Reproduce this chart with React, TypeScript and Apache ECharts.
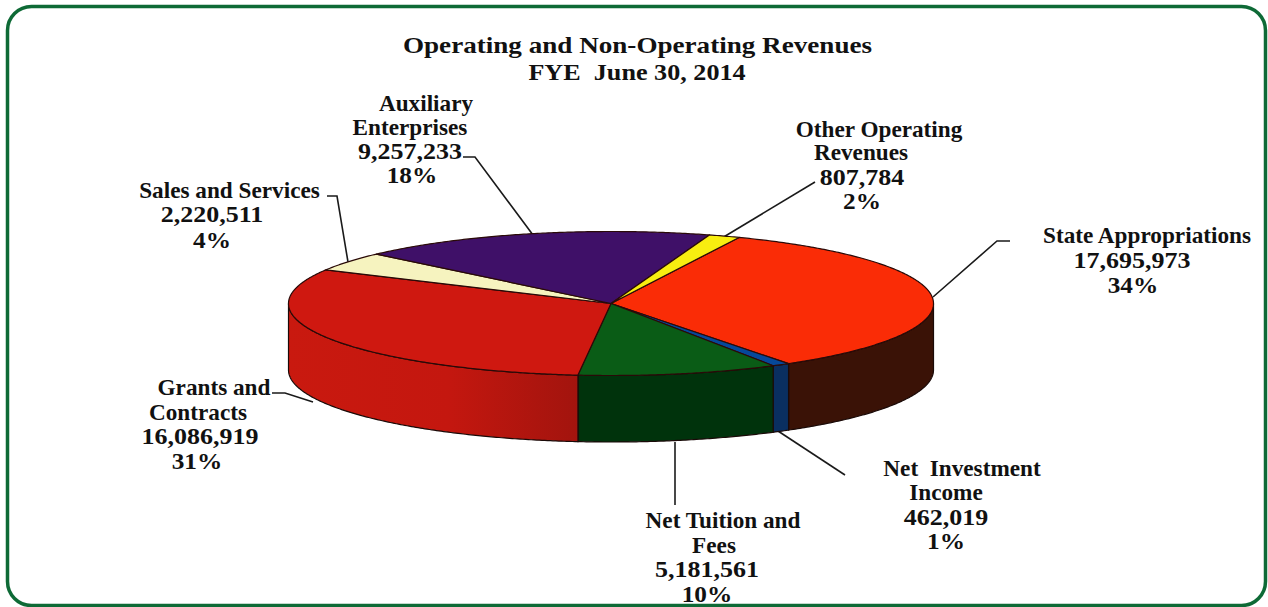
import React, { useEffect, useRef } from "react";
import * as echarts from "echarts";

const titleLines = ["Operating and Non-Operating Revenues", "FYE  June 30, 2014"];
const categories = [
  ["State Appropriations"],
  ["Net  Investment", "Income"],
  ["Net Tuition and", "Fees"],
  ["Grants and", "Contracts"],
  ["Sales and Services"],
  ["Auxiliary", "Enterprises"],
  ["Other Operating", "Revenues"],
];
const values = [17695973, 462019, 5181561, 16086919, 2220511, 9257233, 807784];
const percents = ["34%", "1%", "10%", "31%", "4%", "18%", "2%"];
const topColors = ["#fa2c06", "#06489a", "#0a5c16", "#cf1810", "#f6f3bf", "#3f1068", "#f8ee10"];
const sideColors: any[] = [
  "#3a1206",
  "#0a2f60",
  "#00330c",
  ["#c9190f", "#c4170f", "#a2140e"],
  "#f6f3bf",
  "#3f1068",
  "#f8ee10",
];

// Pie drawing geometry
const CX = 611, CY = 303.5, RX = 322.5, RY = 72, DEPTH = 66.5, START = -66.6;
// Label layout: centre x and baseline-middle y per text line
const labelX = [
  [1147, 1132, 1133],
  [962, 946, 946, 946],
  [723, 714, 707, 707],
  [214, 198, 200, 197],
  [229.5, 212, 212],
  [426, 410, 410, 412],
  [879, 861, 862, 862],
];
const labelY = [
  [235, 260, 285],
  [468, 492, 517, 541],
  [520, 545, 569, 594],
  [387, 412, 436, 461],
  [190, 214, 240],
  [103, 127, 151, 175],
  [129, 152, 177, 201],
];
const leaders = [
  [[1010, 241], [997, 241], [933, 297]],
  [[845, 475], [778, 431]],
  [[675, 442], [675, 505]],
  [[272, 393], [285, 393], [313, 402]],
  [[327, 196], [337, 196], [348, 262]],
  [[463, 157], [475, 157], [533, 235]],
  [[815, 182], [722, 238]],
];

const FONT = '"Liberation Serif", "Times New Roman", serif';
const total = values.reduce((a, b) => a + b, 0);
const pt = (deg: number, dy = 0): number[] => {
  const r = (deg * Math.PI) / 180;
  return [CX + RX * Math.cos(r), CY + RY * Math.sin(r) + dy];
};
const arc = (a: number, b: number, dy = 0): number[][] => {
  const n = Math.max(2, Math.ceil(Math.abs(b - a) * 2));
  const out: number[][] = [];
  for (let i = 0; i <= n; i++) out.push(pt(a + ((b - a) * i) / n, dy));
  return out;
};

function renderSlice(params: any, api: any) {
  const i = params.dataIndex;
  const before = values.slice(0, i).reduce((a, b) => a + b, 0);
  const a0 = START + (before / total) * 360;
  const a1 = a0 + (api.value(0) / total) * 360;
  const children: any[] = [];
  const s0 = Math.max(a0, 0);
  const s1 = Math.min(a1, 180);
  if (s1 > s0) {
    const c = sideColors[i];
    const fill = Array.isArray(c)
      ? new echarts.graphic.LinearGradient(0, 0, 1, 0, [
          { offset: 0, color: c[0] },
          { offset: 0.55, color: c[1] },
          { offset: 1, color: c[2] },
        ])
      : c;
    children.push({
      type: "polygon",
      shape: { points: [...arc(s0, s1), ...arc(s1, s0, DEPTH)] },
      style: { fill, stroke: "#1a0a08", lineWidth: 1.2 },
    });
  }
  children.push({
    type: "polygon",
    shape: { points: [[CX, CY], ...arc(a0, a1)] },
    style: { fill: topColors[i], stroke: "#2a0a08", lineWidth: 1.2, lineJoin: "round" },
  });
  return { type: "group", children };
}

export default function App() {
  const ref = useRef<HTMLDivElement>(null);
  useEffect(() => {
    const chart = echarts.init(ref.current!, undefined, { renderer: "svg" });
    const text = (s: string, x: number, y: number, size = 23, sx = 1) => ({
      type: "text",
      x,
      y,
      scaleX: sx,
      silent: true,
      style: {
        text: s,
        x: 0,
        y: 0,
        align: "center",
        verticalAlign: "middle",
        fill: "#111111",
        font: `bold ${size}px ${FONT}`,
      },
    });
    const graphics: any[] = [
      {
        type: "rect",
        shape: { x: 7.5, y: 6.5, width: 1258, height: 599, r: 24 },
        style: { fill: "#ffffff", stroke: "#0e6a36", lineWidth: 3.5 },
        z: -1,
      },
      text(titleLines[0], 637.5, 45, 24, 1.13),
      text(titleLines[1], 637, 72, 24, 1.09),
    ];
    categories.forEach((lines, i) => {
      lines.forEach((s, k) => graphics.push(text(s, labelX[i][k], labelY[i][k], 23, 1.01)));
      const n = lines.length;
      graphics.push(text(values[i].toLocaleString("en-US"), labelX[i][n], labelY[i][n], 23, 1.13));
      graphics.push(text(percents[i], labelX[i][n + 1], labelY[i][n + 1], 23, 1.1));
      graphics.push({
        type: "polyline",
        shape: { points: leaders[i] },
        style: { stroke: "#1a1a1a", lineWidth: 1.6, fill: "none" },
      });
    });
    chart.setOption({
      animation: false,
      backgroundColor: "#ffffff",
      graphic: { elements: graphics },
      series: [
        {
          type: "custom",
          coordinateSystem: "none",
          renderItem: renderSlice,
          data: values.map((v) => [v]),
          silent: true,
          z: 5,
        },
      ],
    });
    return () => chart.dispose();
  }, []);
  return (
    <div
      ref={ref}
      style={{ position: "absolute", left: 0, top: 0, width: 1268, height: 607 }}
    />
  );
}
